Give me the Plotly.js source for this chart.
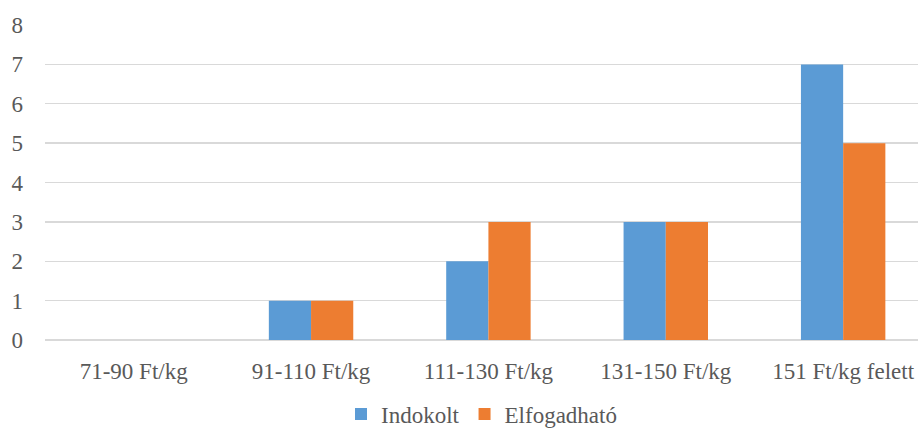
<!DOCTYPE html>
<html>
<head>
<meta charset="utf-8">
<script src="https://cdn.plot.ly/plotly-3.0.1.min.js"></script>
<style>html,body{margin:0;padding:0;background:#fff;}#chart{width:918px;height:431px;}</style>
</head>
<body>
<div id="chart"></div>
<script>
const categories = ["71-90 Ft/kg", "91-110 Ft/kg", "111-130 Ft/kg", "131-150 Ft/kg", "151 Ft/kg felett"];
const indokolt = [0, 1, 2, 3, 7];
const elfogadhato = [0, 1, 3, 3, 5];
const yTicks = [0, 1, 2, 3, 4, 5, 6, 7, 8];

const FAM = "Times New Roman, Liberation Serif, serif";
const COL = "#595959";

const traces = [
  {type: "bar", name: "Indokolt", x: categories, y: indokolt, marker: {color: "#5B9BD5"}},
  {type: "bar", name: "Elfogadható", x: categories, y: elfogadhato, marker: {color: "#ED7D31"}}
];

const layout = {
  width: 918, height: 431,
  margin: {l: 45, r: 0, t: 25, b: 91, pad: 0, autoexpand: false},
  paper_bgcolor: "#fff", plot_bgcolor: "#fff",
  barmode: "group", bargap: 0.524, bargroupgap: 0,
  font: {family: FAM, size: 23, color: COL},
  showlegend: true,
  legend: {orientation: "h", x: 0.5, xanchor: "center", y: -0.235, yanchor: "middle",
           font: {family: FAM, size: 23, color: COL}, itemwidth: 30, traceorder: "normal"},
  xaxis: {type: "category", range: [-0.5, 4.422], showgrid: false, zeroline: false, showline: false,
          ticks: "", ticklabelstandoff: 15, tickfont: {family: FAM, size: 23, color: COL}},
  yaxis: {range: [0, 8], tickvals: yTicks, showgrid: true, gridcolor: "#d9d9d9", gridwidth: 1.3,
          zeroline: true, zerolinecolor: "#d9d9d9", zerolinewidth: 1.3, showline: false, ticks: "",
          ticklabelstandoff: 21, tickfont: {family: FAM, size: 23, color: COL}}
};

Plotly.newPlot("chart", traces, layout, {displayModeBar: false, staticPlot: true});
</script>
</body>
</html>
